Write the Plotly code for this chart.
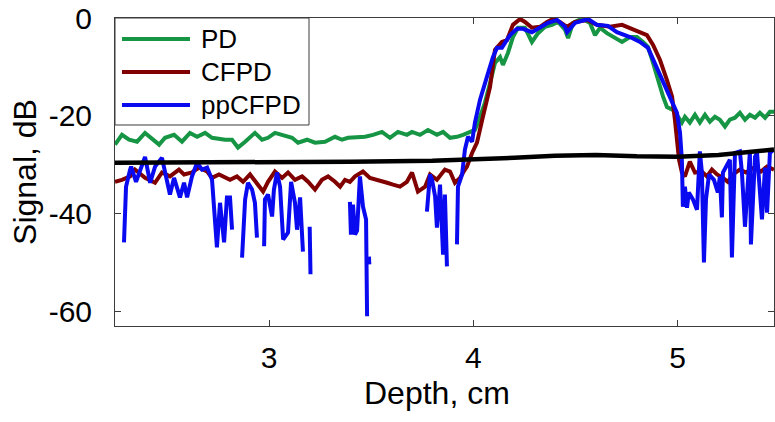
import plotly.graph_objects as go

# ---- data ----
depth_pd = [2.246, 2.280, 2.315, 2.354, 2.393, 2.437, 2.462, 2.491, 2.535, 2.574, 2.613, 2.648,
            2.687, 2.721, 2.770, 2.785, 2.819, 2.848, 2.883, 2.931, 2.966, 2.995, 3.029, 3.069,
            3.113, 3.142, 3.186, 3.225, 3.274, 3.323, 3.357, 3.387, 3.431, 3.470, 3.509, 3.553,
            3.592, 3.631, 3.675, 3.700, 3.739, 3.778, 3.822, 3.852, 3.886, 3.920, 3.950, 3.974,
            4.008, 4.023, 4.057, 4.082, 4.106, 4.131, 4.145, 4.170, 4.194, 4.219, 4.253, 4.287,
            4.317, 4.351, 4.385, 4.415, 4.449, 4.464, 4.488, 4.532, 4.571, 4.596, 4.620, 4.654,
            4.684, 4.728, 4.767, 4.801, 4.831, 4.855, 4.880, 4.904, 4.929, 4.948, 4.977, 5.002,
            5.021, 5.036, 5.060, 5.085, 5.109, 5.134, 5.158, 5.183, 5.207, 5.232, 5.256, 5.281,
            5.305, 5.330, 5.354, 5.379, 5.403, 5.428, 5.452, 5.472]
pd_db = [-25.9, -23.9, -24.9, -25.3, -23.5, -24.9, -25.9, -24.5, -23.9, -25.3, -23.5, -24.3,
         -23.5, -24.5, -24.9, -24.9, -24.9, -26.5, -25.3, -23.5, -24.9, -24.5, -23.5, -23.9,
         -24.5, -25.5, -24.9, -25.5, -25.3, -24.3, -24.9, -24.5, -24.5, -24.3, -23.9, -23.3,
         -24.5, -23.3, -23.9, -23.3, -23.9, -22.9, -23.9, -23.3, -24.5, -24.3, -23.9, -23.5,
         -22.9, -21.4, -17.3, -13.3, -9.2, -8.0, -9.6, -7.1, -3.9, -2.0, -2.0, -4.9,
         -3.1, -1.8, -1.4, -0.8, -2.4, -4.1, -1.0, -0.1, -1.0, -3.5, -2.0, -3.1,
         -3.9, -4.9, -3.9, -3.9, -4.9, -5.9, -9.2, -12.7, -16.1, -18.2, -18.8, -20.2,
         -21.4, -20.2, -21.4, -19.8, -21.4, -19.8, -21.2, -20.2, -20.8, -22.2, -20.8, -20.4,
         -19.4, -20.8, -19.8, -20.4, -19.4, -20.4, -19.2, -19.2]

depth_cfpd = [2.246, 2.280, 2.320, 2.344, 2.393, 2.442, 2.476, 2.515, 2.559, 2.584, 2.623, 2.657,
              2.697, 2.721, 2.755, 2.785, 2.809, 2.843, 2.873, 2.907, 2.941, 2.971, 2.995, 3.029,
              3.064, 3.093, 3.127, 3.162, 3.191, 3.225, 3.259, 3.289, 3.323, 3.348, 3.372, 3.396,
              3.421, 3.460, 3.494, 3.534, 3.578, 3.607, 3.641, 3.675, 3.700, 3.729, 3.764, 3.788,
              3.822, 3.861, 3.886, 3.910, 3.935, 3.959, 3.969, 3.994, 4.018, 4.047, 4.082, 4.106,
              4.140, 4.165, 4.194, 4.229, 4.253, 4.287, 4.326, 4.361, 4.390, 4.424, 4.459, 4.498,
              4.557, 4.605, 4.669, 4.728, 4.767, 4.816, 4.850, 4.880, 4.914, 4.948, 4.973, 4.987,
              4.997, 5.007, 5.021, 5.036, 5.060, 5.085, 5.119, 5.144, 5.168, 5.193, 5.222, 5.246,
              5.271, 5.305, 5.335, 5.374, 5.408, 5.438, 5.472]
cfpd_db = [-33.5, -33.1, -32.4, -31.0, -32.7, -33.7, -31.6, -32.4, -31.0, -32.0, -31.6, -30.6,
           -31.4, -32.7, -32.0, -32.7, -33.1, -32.4, -33.5, -32.0, -33.7, -35.5, -33.5, -31.4,
           -32.7, -31.6, -33.1, -32.4, -33.5, -35.1, -33.1, -32.4, -33.5, -34.5, -33.1, -33.5,
           -32.4, -31.4, -32.7, -33.1, -33.7, -34.1, -34.5, -33.5, -31.6, -35.5, -34.5, -32.0,
           -33.1, -31.0, -31.4, -33.7, -32.7, -31.0, -30.4, -27.6, -25.5, -20.2, -14.1, -6.5,
           -4.9, -4.5, -1.4, -0.2, -0.8, -2.0, -1.8, -0.8, -0.2, -0.8, -1.8, -0.8,
           -0.4, -1.4, -1.8, -1.4, -2.0, -2.9, -3.5, -5.5, -8.6, -12.7, -16.1, -20.8,
           -25.5, -29.0, -31.6, -32.4, -29.4, -31.6, -31.4, -32.4, -31.0, -32.0, -32.7, -33.5,
           -32.0, -31.0, -31.6, -30.6, -31.4, -30.4, -31.0]

depth_pp = [2.290, 2.300, 2.320, 2.325, 2.349, 2.393, 2.418, 2.442, 2.476, 2.515, 2.535, 2.564,
            2.584, 2.599, 2.623, 2.648, 2.672, 2.697, 2.721, 2.745, 2.760, 2.780, 2.794, 2.809,
            2.819, 2.820,
            2.868, 2.883, 2.897, 2.917, 2.931, 2.941, 2.950,
            2.976, 2.980, 2.995, 3.015, 3.024, 3.039, 3.054, 3.069, 3.093, 3.108, 3.127, 3.137,
            3.152, 3.166, 3.180,
            3.199, 3.203, 3.210,
            3.396, 3.401, 3.411, 3.421, 3.431, 3.445, 3.460, 3.475, 3.480, 3.485,
            3.489, 3.491, 3.495,
            3.773, 3.788, 3.798, 3.813, 3.822, 3.837, 3.852, 3.861, 3.871, 3.880,
            3.920, 3.925, 3.945, 3.959, 3.974, 3.994, 4.008, 4.033, 4.067, 4.096, 4.116, 4.140,
            4.155, 4.180, 4.214, 4.243, 4.287, 4.326, 4.366, 4.410, 4.449, 4.459, 4.498, 4.562,
            4.605, 4.659, 4.703, 4.767, 4.816, 4.855, 4.889, 4.924, 4.963, 4.997, 5.012, 5.021,
            5.026, 5.036, 5.046, 5.055, 5.075, 5.095, 5.109, 5.119, 5.129, 5.139, 5.154, 5.178,
            5.197, 5.207, 5.217, 5.222, 5.256, 5.266, 5.281, 5.305, 5.315, 5.330, 5.354, 5.359,
            5.379, 5.389, 5.413, 5.428, 5.438, 5.452, 5.472]
ppcfpd_db = [-45.9, -34.5, -31.0, -30.4, -33.5, -28.4, -33.7, -30.4, -28.6, -36.1, -32.7, -36.7,
             -33.7, -36.7, -32.4, -29.6, -31.0, -30.6, -33.1, -46.9, -37.8, -45.9, -36.7, -36.7,
             -43.3, None,
             -49.0, -37.1, -33.7, -35.1, -37.8, -44.9, None,
             -46.7, -37.1, -36.1, -40.6, -35.1, -31.6, -34.5, -45.3, -43.9, -33.5, -37.8, -43.3,
             -36.7, -47.8, None,
             -42.7, -52.4, None,
             -37.6, -44.3, -38.2, -44.3, -43.5, -32.4, -38.6, -41.2, -61.0, None,
             -48.8, -50.4, None,
             -39.6, -32.0, -33.1, -36.5, -42.9, -34.1, -48.4, -36.1, -50.8, None,
             -46.3, -34.5, -32.0, -26.9, -24.3, -25.3, -21.4, -16.7, -12.0, -8.0, -6.1, -6.1,
             -5.1, -3.5, -2.2, -2.2, -2.9, -2.0, -1.0, -0.4, -1.8, -2.9, -1.0, -0.2,
             -1.4, -1.6, -2.9, -3.9, -4.9, -6.1, -9.2, -12.7, -16.3, -19.4, -23.5, -29.0,
             -38.6, -34.5, -38.8, -35.7, -37.1, -39.2, -27.3, -31.6, -50.0, -37.1, -32.0, -33.1,
             -35.7, -32.4, -40.8, -31.6, -29.0, -49.0, -27.6, -27.3, -31.6, -42.7, -27.3, -46.3,
             -28.4, -27.6, -41.2, -30.6, -39.8, -27.6, -26.9]

depth_floor = [2.246, 2.6, 3.0, 3.4, 3.8, 4.0, 4.2, 4.4, 4.6, 4.8, 5.0, 5.2, 5.35, 5.472]
floor_db = [-29.6, -29.6, -29.5, -29.4, -29.2, -29.0, -28.6, -28.2, -28.0, -28.3, -28.4, -28.0, -27.4, -26.9]

series_names = ["PD", "CFPD", "ppCFPD"]
series_colors = ["rgb(22,150,68)", "rgb(128,0,0)", "rgb(10,10,240)"]
x_ticks = [3, 4, 5]
x_ticktext = ["3", "4", "5"]
y_ticks = [-60, -40, -20, 0]
y_ticktext = ["-60", "-40", "-20", "0"]
x_title = "Depth, cm"
y_title = "Signal, dB"

FONT = "Liberation Sans, Arial, Helvetica, sans-serif"
AX = "#3c3c3c"

fig = go.Figure()
fig.add_trace(go.Scatter(x=depth_pd, y=pd_db, mode="lines", name=series_names[0],
                         line=dict(color=series_colors[0], width=4), showlegend=False))
fig.add_trace(go.Scatter(x=depth_cfpd, y=cfpd_db, mode="lines", name=series_names[1],
                         line=dict(color=series_colors[1], width=4), showlegend=False))
fig.add_trace(go.Scatter(x=depth_pp, y=ppcfpd_db, mode="lines", name=series_names[2],
                         line=dict(color=series_colors[2], width=4), connectgaps=False,
                         showlegend=False))
fig.add_trace(go.Scatter(x=depth_floor, y=floor_db, mode="lines", name="noise floor",
                         showlegend=False, line=dict(color="black", width=4.5)))

# Legend box (MATLAB-style, compact rows) drawn in paper coordinates
shapes = [dict(type="rect", xref="paper", yref="paper", x0=0, x1=0.2944, y0=0.6526, y1=1,
               line=dict(color=AX, width=1), fillcolor="white", layer="above")]
annotations = []
row_y = [0.9318, 0.8247, 0.7175]
for name, color, yy in zip(series_names, series_colors, row_y):
    shapes.append(dict(type="line", xref="paper", yref="paper", x0=0.0106, x1=0.1138,
                       y0=yy, y1=yy, line=dict(color=color, width=4), layer="above"))
    annotations.append(dict(xref="paper", yref="paper", x=0.1270, y=yy, text=name,
                            showarrow=False, xanchor="left", yanchor="middle",
                            font=dict(family=FONT, size=26, color="black")))

# x-axis title placed close under the tick labels, as in the reference
annotations.append(dict(xref="paper", yref="paper", x=0.4886, y=-0.218, text=x_title,
                        showarrow=False, xanchor="center", yanchor="middle",
                        font=dict(family=FONT, size=32, color="black")))

fig.update_layout(
    width=775, height=422,
    margin=dict(l=115, r=1, t=18, b=96),
    paper_bgcolor="white", plot_bgcolor="white",
    font=dict(family=FONT, color="black"),
    showlegend=False,
    shapes=shapes, annotations=annotations,
)
fig.update_xaxes(range=[2.246, 5.472], tickvals=x_ticks, ticktext=x_ticktext,
                 ticks="inside", ticklen=6,
                 tickcolor=AX, showline=True, linecolor=AX, linewidth=1, mirror="ticks",
                 showgrid=False, zeroline=False, tickfont=dict(size=30),
                 ticklabelstandoff=5)
fig.update_yaxes(range=[-63, 0], tickvals=y_ticks, ticktext=y_ticktext,
                 ticks="inside", ticklen=6,
                 tickcolor=AX, showline=True, linecolor=AX, linewidth=1, mirror="ticks",
                 showgrid=False, zeroline=False, tickfont=dict(size=30),
                 ticklabelstandoff=16,
                 title=dict(text=y_title, font=dict(size=32), standoff=2))

fig.write_html("out.html")
